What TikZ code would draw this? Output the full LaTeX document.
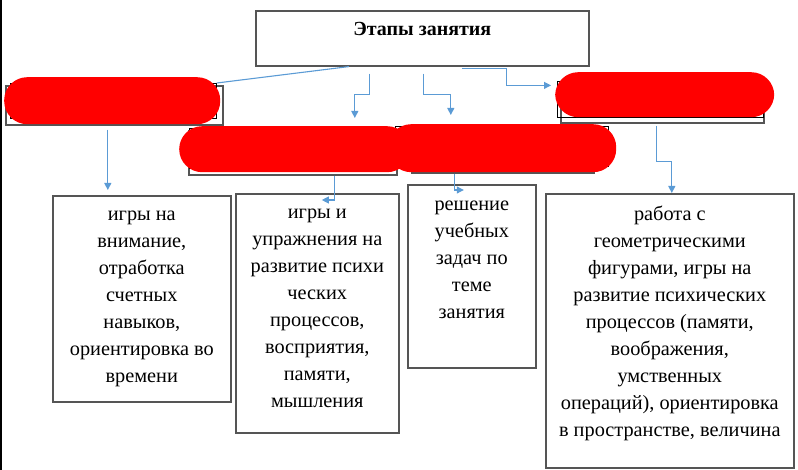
\documentclass[tikz,border=0pt]{standalone}
\usepackage{fontspec}
\setmainfont{Liberation Serif}
\usepackage{tikz}
\usetikzlibrary{arrows.meta, positioning, calc}

\definecolor{linkblue}{RGB}{91,155,213}
\definecolor{framegray}{RGB}{85,85,85}
\definecolor{blotred}{RGB}{255,0,0}

\begin{document}
\begin{tikzpicture}[
        x=1pt, y=-1pt,
        title/.style={rectangle, draw=framegray, line width=1.6pt, inner sep=0pt, text height=25pt, text depth=30pt, anchor=north west, font=\fontsize{20}{23}\selectfont\bfseries},
        stage/.style={rectangle, draw=framegray, line width=1.6pt, inner sep=0pt, anchor=north west},
        stagein/.style={rectangle, draw=black, line width=0.8pt, inner sep=0pt, anchor=north west},
        blot/.style={rectangle, rounded corners=23pt, fill=blotred, inner sep=0pt, anchor=north west},
        card/.style={rectangle, draw=framegray, line width=1.6pt, inner sep=0pt, anchor=north west},
        cardtext/.style={anchor=north, align=center, inner sep=0pt, font=\fontsize{20.3}{27}\selectfont},
        link/.style={draw=linkblue, line width=1.1pt},
        arrow/.style={link, -{Triangle[length=7pt, width=7pt]}}
        ]
        \useasboundingbox (0,0) rectangle (798,470);
        \draw [black, line width=2pt] (1,0) -- (1,470);

        % Nodes
        \node (title) [title, minimum width=333pt, minimum height=55pt] at (255,10) {Этапы занятия};

        \node (s1) [stage, minimum width=217pt, minimum height=39pt] at (5,85) {};
        \node (s1in) [stagein, minimum width=206pt, minimum height=35pt] at (10,83) {};
        \node (s2) [stage, minimum width=208pt, minimum height=44pt] at (188,130) {};
        \node (s2in) [stagein, minimum width=204pt, minimum height=40pt] at (189,128) {};
        \node (s3) [stage, minimum width=182pt, minimum height=42pt] at (411,130) {};
        \node (s3in) [stagein, minimum width=213pt, minimum height=40pt] at (395,126) {};
        \node (s4) [stage, minimum width=203pt, minimum height=38pt] at (560,84) {};
        \node (s4in) [stagein, minimum width=206pt, minimum height=36pt] at (557,81) {};

        \node (b1) [card, minimum width=178pt, minimum height=206pt] at (52,195) {};
        \node (b2) [card, minimum width=163pt, minimum height=239pt] at (235,193) {};
        \node (b3) [card, minimum width=128pt, minimum height=183pt] at (407,184) {};
        \node (b4) [card, minimum width=248pt, minimum height=274pt] at (545,193) {};

        \node (b1text) [cardtext] at ($(b1.north)+(0,6)$) {\strut игры на\\внимание,\\отработка\\счетных\\навыков,\\ориентировка во\\времени};
        \node (b2text) [cardtext] at ($(b2.north)+(0,6)$) {\strut игры и\\упражнения на\\развитие психи\\ческих\\процессов,\\восприятия,\\памяти,\\мышления};
        \node (b3text) [cardtext] at ($(b3.north)+(0,7)$) {\strut решение\\учебных\\задач по\\теме\\занятия};
        \node (b4text) [cardtext] at ($(b4.north)+(0,8)$) {\strut работа с\\геометрическими\\фигурами, игры на\\развитие психических\\процессов (памяти,\\воображения,\\умственных\\операций), ориентировка\\в пространстве, величина};

        % Red blots over the stage names
        \node (blot1) [blot, minimum width=216pt, minimum height=47pt] at (4,77) {};
        \node (blot2) [blot, minimum width=231pt, minimum height=46pt] at (179,126) {};
        \node (blot3) [blot, minimum width=228pt, minimum height=48pt] at (388,124) {};
        \node (blot4) [blot, minimum width=219pt, minimum height=45pt] at (555,72) {};

        % Arrows
        \draw [link] ($(title.south)+(-73.5,0)$) -- (s1in.north east);
        \draw [arrow] ($(title.south)+(-52.5,7)$) -- ++(0,21) -| ($(s2.north)+(62,-12)$);
        \draw [arrow] ($(title.south)+(1.5,7)$) -- ++(0,21) -| ($(s3.north)+(-52,-15)$);
        \draw [arrow] ($(title.south)+(39.5,2)$) -- ++(45,0) |- ($(s4in.west)+(-6,-14)$);

        \draw [arrow] ($(s1.south)+(-6.5,4)$) -- ($(b1.north)+(-34,-5)$);
        \draw [arrow] ($(s2.south)+(42,0)$) |- ($(b2.north)+(4.5,7)$);
        \draw [arrow] ($(s3.south)+(-48,0)$) |- ($(b3.north)+(-8,6)$);
        \draw [arrow] ($(s4.south)+(-5.5,2)$) -- ++(0,36) -| ($(b4.north)+(2,0)$);

    \end{tikzpicture}
\end{document}
